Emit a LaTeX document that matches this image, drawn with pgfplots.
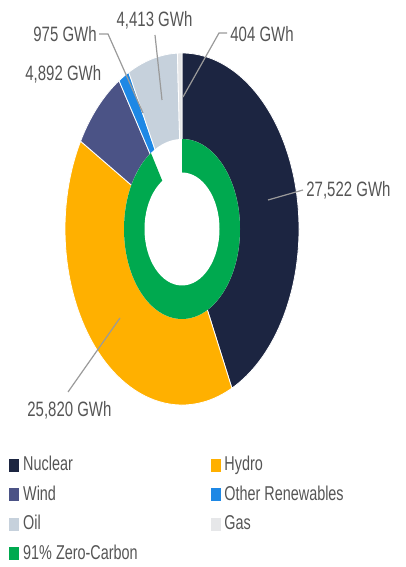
\documentclass[border=0pt]{standalone}
\usepackage{pgfplots}
\pgfplotsset{compat=1.18}
\usepackage{pgfplotstable}
\usepackage{xfp}
\usepackage{fontspec}
\setmainfont[FakeStretch=0.72]{Liberation Sans}
\definecolor{cNuc}{HTML}{1C2541}
\definecolor{cHyd}{HTML}{FFB000}
\definecolor{cWin}{HTML}{4B5386}
\definecolor{cOth}{HTML}{1E88E5}
\definecolor{cOil}{HTML}{C6D1DC}
\definecolor{cGas}{HTML}{E6E7E9}
\definecolor{cZero}{HTML}{00A94F}
\definecolor{txt}{HTML}{555555}
\definecolor{lead}{HTML}{9A9A9A}
\pgfplotstableread{
label value
Nuclear 27522
Hydro 25820
Wind 4892
Other 975
Oil 4413
Gas 404
}\gentable
\def\zeroshare{91}
\def\Rx{58.5pt}\def\Ry{88pt}
\def\Gx{29pt}\def\Gy{45pt}
\def\Ix{18.75pt}\def\Iy{28.25pt}
\newcommand\pieslice[3]{%
  \fill[#3, draw=white, line width=0.4pt] (axis cs:182,338) -- ++(canvas polar cs:angle=#1, x radius=\Rx, y radius=\Ry)
    arc[start angle=#1, end angle=#2, x radius=\Rx, y radius=\Ry] -- cycle;}
\begin{document}
\begin{tikzpicture}
\pgfplotstablegetelem{0}{value}\of\gentable\edef\vA{\pgfplotsretval}
\pgfplotstablegetelem{1}{value}\of\gentable\edef\vB{\pgfplotsretval}
\pgfplotstablegetelem{2}{value}\of\gentable\edef\vC{\pgfplotsretval}
\pgfplotstablegetelem{3}{value}\of\gentable\edef\vD{\pgfplotsretval}
\pgfplotstablegetelem{4}{value}\of\gentable\edef\vE{\pgfplotsretval}
\pgfplotstablegetelem{5}{value}\of\gentable\edef\vF{\pgfplotsretval}
\edef\tot{\fpeval{\vA+\vB+\vC+\vD+\vE+\vF}}
\edef\aA{\fpeval{90-360*\vA/\tot}}
\edef\aB{\fpeval{\aA-360*\vB/\tot}}
\edef\aC{\fpeval{\aB-360*\vC/\tot}}
\edef\aD{\fpeval{\aC-360*\vD/\tot}}
\edef\aE{\fpeval{\aD-360*\vE/\tot}}
\edef\aF{\fpeval{\aE-360*\vF/\tot}}
\edef\aZ{\fpeval{90-360*\zeroshare/100}}
\begin{axis}[
  name=ax,
  x=0.5pt, y=0.5pt, xmin=0, xmax=406, ymin=0, ymax=567,
  hide axis, scale only axis, clip=false,
  legend columns=2,
  legend cell align=left,
  legend image code/.code={\fill[#1] (0pt,-3pt) rectangle (4.5pt,3pt);},
  legend style={draw=none, fill=none, at={(axis cs:3,119)}, anchor=north west,
    font=\fontsize{10}{12}\selectfont, text=txt, row sep=2pt,
    /tikz/every even column/.append style={column sep=34.5pt}},
]
\path (axis cs:0,0) rectangle (axis cs:406,567);
\pieslice{90}{\aA}{cNuc}
\pieslice{\aA}{\aB}{cHyd}
\pieslice{\aB}{\aC}{cWin}
\pieslice{\aC}{\aD}{cOth}
\pieslice{\aD}{\aE}{cOil}
\pieslice{\aE}{\aF}{cGas}
\fill[white] (axis cs:182,338) ellipse[x radius=\Gx, y radius=\Gy];
\fill[cZero] (axis cs:182,338) -- ++(canvas polar cs:angle=90, x radius=\Gx, y radius=\Gy)
  arc[start angle=90, end angle=\aZ, x radius=\Gx, y radius=\Gy] -- cycle;
\fill[white] (axis cs:182,338) ellipse[x radius=\Ix, y radius=\Iy];
% leader lines
\draw[lead, line width=0.6pt] (axis cs:268,367) -- (axis cs:303,377);
\draw[lead, line width=0.6pt] (axis cs:68,175) -- (axis cs:120,249);
\draw[lead, line width=0.6pt] (axis cs:99,533) -- (axis cs:108,533) -- (axis cs:143,454);
\draw[lead, line width=0.6pt] (axis cs:155,532) -- (axis cs:162,467);
\draw[lead, line width=0.6pt] (axis cs:227,534) -- (axis cs:219,534) -- (axis cs:183,470);
% labels
\begin{scope}[every node/.style={text=txt, font=\fontsize{10.4}{12}\selectfont, inner sep=0pt}]
\node[anchor=west] at (axis cs:306,377) {27,522 GWh};
\node[anchor=west] at (axis cs:27,157) {25,820 GWh};
\node[anchor=west] at (axis cs:25,493) {4,892 GWh};
\node[anchor=west] at (axis cs:33,533) {975 GWh};
\node[anchor=center] at (axis cs:154.5,547) {4,413 GWh};
\node[anchor=west] at (axis cs:230,533) {404 GWh};
\end{scope}
\addlegendimage{cNuc}\addlegendentry{Nuclear}
\addlegendimage{cHyd}\addlegendentry{Hydro}
\addlegendimage{cWin}\addlegendentry{Wind}
\addlegendimage{cOth}\addlegendentry{Other Renewables}
\addlegendimage{cOil}\addlegendentry{Oil}
\addlegendimage{cGas}\addlegendentry{Gas}
\addlegendimage{cZero}\addlegendentry{91\% Zero-Carbon}
\end{axis}
\pgfresetboundingbox
\path (ax.south west) rectangle (ax.north east);
\end{tikzpicture}
\end{document}
